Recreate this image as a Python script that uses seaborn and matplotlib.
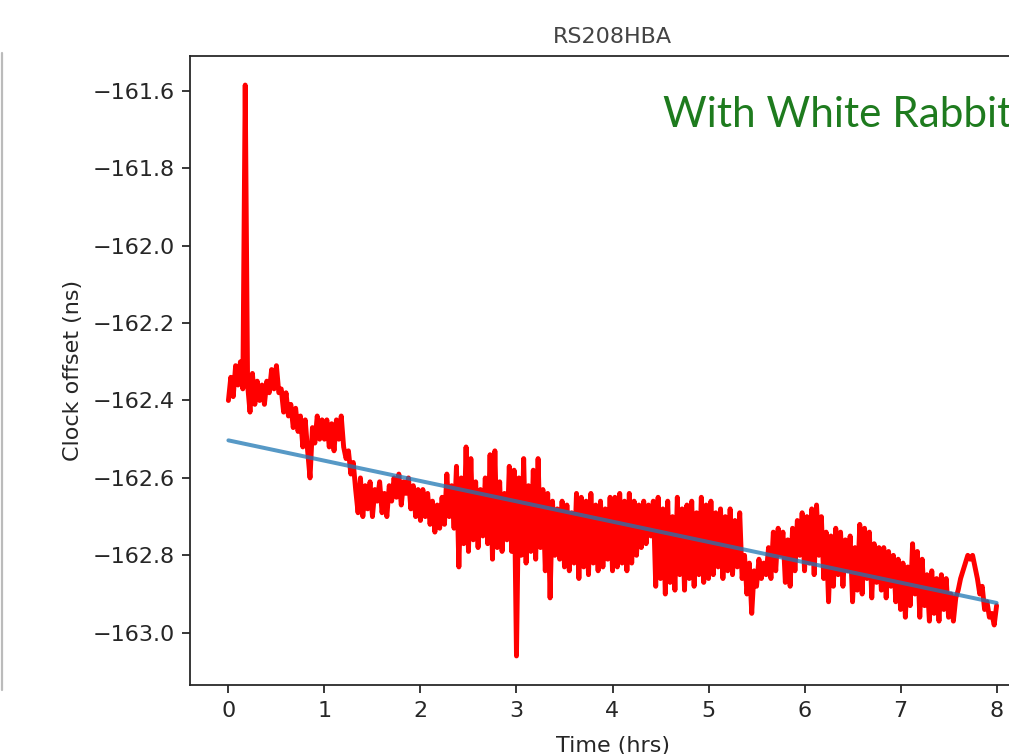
import numpy as np
import pandas as pd
import matplotlib.pyplot as plt
import seaborn as sns

# Set style
sns.set_style("ticks")
plt.rcParams['font.family'] = ['DejaVu Sans']

# Clock offset samples (ns), one row per hour, 0.025 hr spacing
offset_h0 = [-162.40, -162.34, -162.39, -162.31, -162.36, -162.30, -162.37, -161.585, -162.36, -162.43,
             -162.33, -162.41, -162.35, -162.40, -162.36, -162.41, -162.35, -162.38, -162.32, -162.37,
             -162.31, -162.38, -162.37, -162.43, -162.38, -162.44, -162.41, -162.47, -162.42, -162.48,
             -162.44, -162.52, -162.45, -162.53, -162.60, -162.47, -162.51, -162.44, -162.50, -162.45]
offset_h1 = [-162.50, -162.45, -162.52, -162.46, -162.53, -162.45, -162.50, -162.44, -162.52, -162.55,
             -162.53, -162.59, -162.56, -162.63, -162.69, -162.60, -162.70, -162.62, -162.68, -162.61,
             -162.70, -162.63, -162.66, -162.61, -162.69, -162.64, -162.70, -162.62, -162.66, -162.60,
             -162.65, -162.59, -162.67, -162.61, -162.64, -162.60, -162.68, -162.62, -162.70, -162.63]
offset_h2 = [-162.71, -162.63, -162.70, -162.64, -162.72, -162.66, -162.74, -162.67, -162.73, -162.65,
             -162.72, -162.59, -162.70, -162.62, -162.73, -162.57, -162.83, -162.60, -162.77, -162.52,
             -162.79, -162.55, -162.76, -162.61, -162.78, -162.63, -162.75, -162.60, -162.77, -162.54,
             -162.81, -162.53, -162.78, -162.61, -162.79, -162.64, -162.76, -162.57, -162.79, -162.58]
offset_h3 = [-163.06, -162.60, -162.80, -162.55, -162.82, -162.62, -162.79, -162.58, -162.81, -162.55,
             -162.78, -162.63, -162.84, -162.64, -162.91, -162.66, -162.80, -162.68, -162.81, -162.66,
             -162.83, -162.67, -162.84, -162.69, -162.82, -162.64, -162.86, -162.65, -162.83, -162.66,
             -162.85, -162.64, -162.82, -162.67, -162.84, -162.66, -162.83, -162.68, -162.81, -162.65]
offset_h4 = [-162.84, -162.65, -162.83, -162.64, -162.82, -162.66, -162.84, -162.64, -162.82, -162.66,
             -162.80, -162.67, -162.78, -162.66, -162.77, -162.67, -162.75, -162.66, -162.88, -162.65,
             -162.86, -162.68, -162.90, -162.66, -162.87, -162.70, -162.89, -162.65, -162.85, -162.68,
             -162.89, -162.67, -162.86, -162.66, -162.88, -162.69, -162.85, -162.65, -162.87, -162.67]
offset_h5 = [-162.86, -162.66, -162.85, -162.69, -162.83, -162.68, -162.86, -162.70, -162.84, -162.68,
             -162.85, -162.71, -162.83, -162.69, -162.86, -162.80, -162.90, -162.82, -162.95, -162.84,
             -162.88, -162.81, -162.86, -162.82, -162.85, -162.78, -162.86, -162.74, -162.84, -162.73,
             -162.80, -162.74, -162.87, -162.76, -162.88, -162.73, -162.84, -162.71, -162.80, -162.69]
offset_h6 = [-162.84, -162.70, -162.82, -162.68, -162.85, -162.67, -162.80, -162.70, -162.86, -162.74,
             -162.92, -162.75, -162.88, -162.73, -162.85, -162.74, -162.88, -162.76, -162.84, -162.75,
             -162.92, -162.78, -162.89, -162.72, -162.90, -162.73, -162.86, -162.74, -162.91, -162.77,
             -162.87, -162.78, -162.89, -162.78, -162.91, -162.79, -162.88, -162.80, -162.92, -162.81]
offset_h7 = [-162.94, -162.82, -162.96, -162.83, -162.93, -162.77, -162.90, -162.79, -162.96, -162.81,
             -162.93, -162.85, -162.97, -162.84, -162.95, -162.86, -162.97, -162.85, -162.94, -162.86,
             -162.96, -162.90, -162.97, -162.91, -162.89, -162.86, -162.84, -162.82, -162.80, -162.81,
             -162.80, -162.83, -162.86, -162.90, -162.88, -162.94, -162.92, -162.96, -162.95, -162.98,
             -162.93]

# Linear fit end points
fit_time = [0, 8]
fit_offset = [-162.503, -162.923]

x_ticks = [0, 1, 2, 3, 4, 5, 6, 7, 8]
y_ticks = [-163.0, -162.8, -162.6, -162.4, -162.2, -162.0, -161.8, -161.6]

offset = offset_h0 + offset_h1 + offset_h2 + offset_h3 + offset_h4 + offset_h5 + offset_h6 + offset_h7
df = pd.DataFrame({'time': np.linspace(0, 8, len(offset)), 'offset': offset})
fit = pd.DataFrame({'time': fit_time, 'offset': fit_offset})

fig = plt.figure(figsize=(1009 / 160, 754 / 160), dpi=160)
ax = fig.add_axes([190 / 1009, 69 / 754, 845 / 1009, 629 / 754])

sns.lineplot(data=df, x='time', y='offset', color='red', linewidth=2.2,
             estimator=None, sort=False, ax=ax)
sns.lineplot(data=fit, x='time', y='offset', color='#1f77b4', linewidth=1.8,
             alpha=0.75, ax=ax)

ax.set_xlim(-0.4, 8.4)
ax.set_ylim(-163.135, -161.51)
ax.set_xticks(x_ticks)
ax.set_yticks(y_ticks)
ax.set_xlabel('Time (hrs)', labelpad=7)
ax.set_ylabel('Clock offset (ns)')
ax.set_title('RS208HBA', fontsize=10, color='#444444')

# Slide annotation and edge of neighbouring panel
fig.text(663 / 1009, 1 - 127 / 754, 'With White Rabbit', color='#1e7b1e',
         fontsize=19, family='Lato', ha='left', va='baseline')
fig.add_artist(plt.Line2D([0.0015, 0.0015], [1 - 53 / 754, 1 - 690 / 754],
                          color='#bbbbbb', linewidth=1))

plt.savefig('out.png', dpi=160)
plt.close()
